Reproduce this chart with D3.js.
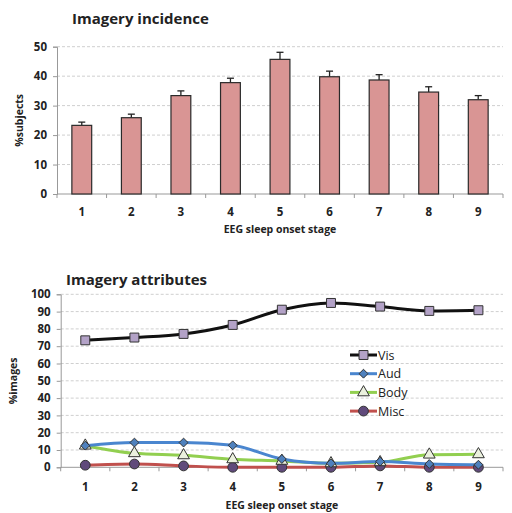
<!DOCTYPE html>
<html>
<head>
<meta charset="utf-8">
<script src="https://cdn.jsdelivr.net/npm/d3@7/dist/d3.min.js"></script>
<style>
  body { margin: 0; background: #fff; }
  text { font-family: "Open Sans", "Noto Sans", sans-serif; font-weight: bold; fill: #222; }
</style>
</head>
<body>
<div id="chart"></div>
<script>
"use strict";

// data
var stages = ["1","2","3","4","5","6","7","8","9"];
var incidence = [23.3, 25.9, 33.4, 37.8, 45.7, 39.8, 38.7, 34.6, 32.0];
var incidence_err = [1.1, 1.2, 1.6, 1.5, 2.4, 1.9, 1.8, 1.8, 1.4];
var incidence_ticks = [0, 10, 20, 30, 40, 50];

var vis  = [73.4, 75.0, 77.1, 82.3, 91.1, 95.0, 92.9, 90.4, 90.8];
var aud  = [12.5, 14.3, 14.3, 12.7, 4.8, 2.3, 3.3, 1.9, 1.5];
var body = [12.5, 8.1, 6.9, 4.6, 3.7, 2.3, 2.9, 7.3, 7.5];
var misc = [1.2, 1.9, 0.8, 0, 0, 0, 0.8, 0, 0];
var attr_ticks = [0, 10, 20, 30, 40, 50, 60, 70, 80, 90, 100];

var w = 512, h = 513;

var svg = d3.select("#chart")
    .append("svg")
    .attr("width", w)
    .attr("height", h);

function draw_frame(x, y, ticks, left, right, ylabel, ylabel_x, title, title_x, title_y, xlab_y, xtitle_y){
    // gridlines
    svg.append("g").selectAll("line")
        .data(ticks.slice(1))
        .enter().append("line")
        .attr("x1", left).attr("x2", right)
        .attr("y1", function(d){ return y(d); })
        .attr("y2", function(d){ return y(d); })
        .attr("stroke", "#cfcfcf")
        .attr("stroke-width", 1)
        .attr("stroke-dasharray", "3,2");

    // y axis
    var yaxis = svg.append("g")
        .attr("transform", "translate(" + left + ",0)")
        .call(d3.axisLeft(y).tickValues(ticks).tickSize(4).tickPadding(6));
    yaxis.select(".domain").attr("stroke", "#999");
    yaxis.selectAll(".tick line").attr("stroke", "#999");
    yaxis.selectAll("text").style("font-size", "11.5px").attr("fill", "#222");

    // x axis line + ticks at category boundaries
    var y0 = y(0);
    svg.append("line")
        .attr("x1", left).attr("x2", right)
        .attr("y1", y0).attr("y2", y0)
        .attr("stroke", "#999");
    var bounds = stages.map(function(d){ return x(d) - x.step() * x.paddingInner() / 2; });
    bounds.push(right);
    svg.append("g").selectAll("line")
        .data(bounds)
        .enter().append("line")
        .attr("x1", function(d){ return d; })
        .attr("x2", function(d){ return d; })
        .attr("y1", y0).attr("y2", y0 + 4)
        .attr("stroke", "#999");

    svg.append("g").selectAll("text")
        .data(stages)
        .enter().append("text")
        .attr("x", function(d){ return x(d) + x.bandwidth() / 2; })
        .attr("y", xlab_y)
        .attr("text-anchor", "middle")
        .style("font-size", "11.5px")
        .text(function(d){ return d; });

    svg.append("text")
        .attr("x", (left + right) / 2)
        .attr("y", xtitle_y)
        .attr("text-anchor", "middle")
        .style("font-size", "10.5px")
        .text("EEG sleep onset stage");

    svg.append("text")
        .attr("transform", "translate(" + ylabel_x + "," + ((y(ticks[0]) + y(ticks[ticks.length-1])) / 2) + ") rotate(-90)")
        .attr("text-anchor", "middle")
        .style("font-size", "10.5px")
        .text(ylabel);

    svg.append("text")
        .attr("x", title_x)
        .attr("y", title_y)
        .style("font-size", "15px")
        .text(title);
}

// ---- top chart: bars
var x1 = d3.scaleBand().domain(stages).range([57, 503]).paddingInner(0.6).paddingOuter(0.3);
var y1 = d3.scaleLinear().domain([0, 50]).range([194, 46.7]);

draw_frame(x1, y1, incidence_ticks, 57, 503, "%subjects", 23, "Imagery incidence", 72, 24, 216, 233);

var bars = svg.append("g").selectAll("g")
    .data(incidence)
    .enter().append("g");

bars.append("line")
    .attr("x1", function(d,i){ return x1(stages[i]) + x1.bandwidth()/2; })
    .attr("x2", function(d,i){ return x1(stages[i]) + x1.bandwidth()/2; })
    .attr("y1", function(d){ return y1(d); })
    .attr("y2", function(d,i){ return y1(d + incidence_err[i]); })
    .attr("stroke", "#222").attr("stroke-width", 1.3);
bars.append("line")
    .attr("x1", function(d,i){ return x1(stages[i]) + x1.bandwidth()/2 - 3.5; })
    .attr("x2", function(d,i){ return x1(stages[i]) + x1.bandwidth()/2 + 3.5; })
    .attr("y1", function(d,i){ return y1(d + incidence_err[i]); })
    .attr("y2", function(d,i){ return y1(d + incidence_err[i]); })
    .attr("stroke", "#222").attr("stroke-width", 1.3);

bars.append("rect")
    .attr("x", function(d,i){ return x1(stages[i]); })
    .attr("y", function(d){ return y1(d); })
    .attr("width", x1.bandwidth())
    .attr("height", function(d){ return y1(0) - y1(d); })
    .attr("fill", "#d99594")
    .attr("stroke", "#2a2a2a")
    .attr("stroke-width", 1.2);

// ---- bottom chart: lines
var x2 = d3.scaleBand().domain(stages).range([60.7, 503]).paddingInner(0.6).paddingOuter(0.3);
var y2 = d3.scaleLinear().domain([0, 100]).range([467.3, 294.3]);

draw_frame(x2, y2, attr_ticks, 60.7, 503, "%images", 17, "Imagery attributes", 66, 285, 491, 509);

var series = [
    { name: "Vis",  values: vis,  line: "#111111", fill: "#b3a2c7", shape: d3.symbolSquare,   size: 80 },
    { name: "Aud",  values: aud,  line: "#4a86cf", fill: "#4f81bd", shape: d3.symbolDiamond2, size: 50 },
    { name: "Body", values: body, line: "#92cf50", fill: "#ebf1de", shape: d3.symbolTriangle, size: 60 },
    { name: "Misc", values: misc, line: "#c0504d", fill: "#604a7b", shape: d3.symbolCircle,   size: 75 }
];

var cx = function(i){ return x2(stages[i]) + x2.bandwidth()/2; };
var line = d3.line()
    .x(function(d,i){ return cx(i); })
    .y(function(d){ return y2(d); })
    .curve(d3.curveMonotoneX);

// draw bottom-most series first
series.slice().reverse().forEach(function(s){
    svg.append("path")
        .datum(s.values)
        .attr("d", line)
        .attr("fill", "none")
        .attr("stroke", s.line)
        .attr("stroke-width", 3);
});
series.slice().reverse().forEach(function(s){
    svg.append("g").selectAll("path")
        .data(s.values)
        .enter().append("path")
        .attr("transform", function(d,i){ return "translate(" + cx(i) + "," + y2(d) + ")"; })
        .attr("d", d3.symbol().type(s.shape).size(s.size))
        .attr("fill", s.fill)
        .attr("stroke", "#333")
        .attr("stroke-width", 1);
});

// legend
var legend = svg.append("g").selectAll("g")
    .data(series)
    .enter().append("g")
    .attr("transform", function(d,i){ return "translate(350," + (355 + i * 18.7) + ")"; });
legend.append("line")
    .attr("x1", 0).attr("x2", 27)
    .attr("stroke", function(d){ return d.line; })
    .attr("stroke-width", 3);
legend.append("path")
    .attr("transform", "translate(13.5,0)")
    .attr("d", function(d){ return d3.symbol().type(d.shape).size(d.size)(); })
    .attr("fill", function(d){ return d.fill; })
    .attr("stroke", "#333")
    .attr("stroke-width", 1);
legend.append("text")
    .attr("x", 28)
    .attr("y", 4.5)
    .style("font-size", "12.5px")
    .style("font-weight", "normal")
    .attr("fill", "#333")
    .text(function(d){ return d.name; });
</script>
</body>
</html>
